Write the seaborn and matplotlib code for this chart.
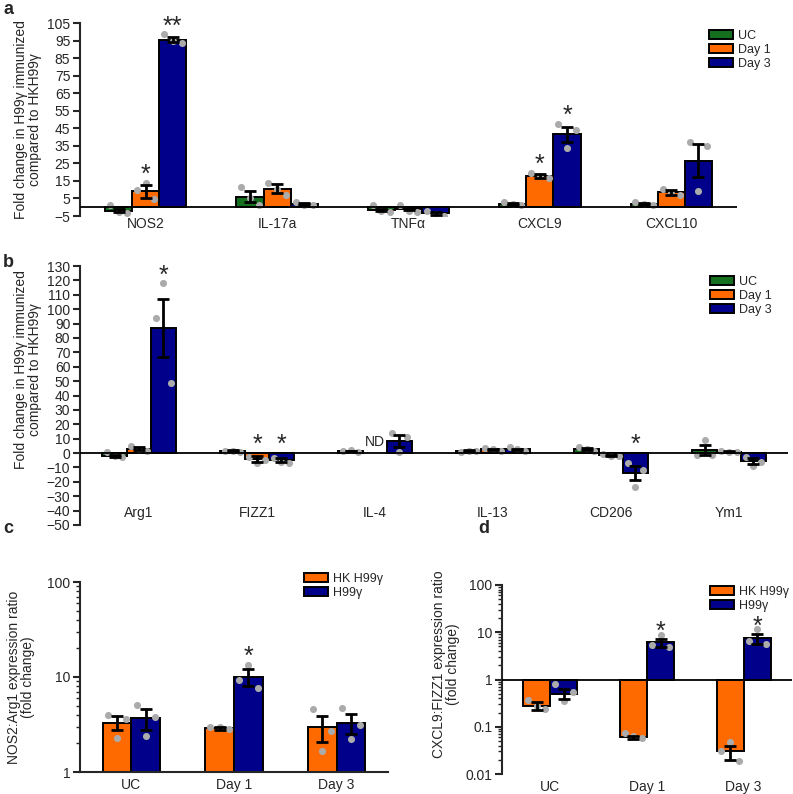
import numpy as np
import pandas as pd
import matplotlib
matplotlib.use("Agg")
import matplotlib.pyplot as plt
import matplotlib.ticker as mticker
from matplotlib.patches import Patch
import seaborn as sns

nan = np.nan

# ---- panel a: M1 markers ----
genes_a = ["NOS2", "IL-17a", "TNFα", "CXCL9", "CXCL10"]
days = ["UC", "Day 1", "Day 3"]
a_mean_uc = [-2.0, 6.0, -1.5, 2.0, 2.0]
a_mean_d1 = [9.0, 10.5, -1.0, 18.0, 8.5]
a_mean_d3 = [95.5, 2.0, -3.5, 41.5, 26.5]
a_sem_uc = [1.0, 3.2, 0.7, 0.6, 0.5]
a_sem_d1 = [3.5, 2.5, 0.8, 1.2, 1.5]
a_sem_d3 = [1.5, 0.5, 0.8, 4.5, 9.3]
a_pts_uc = [[1.5, -3.0, -3.5], [11.5, 5.5, 1.5], [1.0, -2.0, -3.0], [3.0, 2.0, 1.0], [3.0, 2.0, 1.0]]
a_pts_d1 = [[10.0, 14.0, 4.5], [14.0, 10.5, 7.0], [1.5, -2.0, -2.5], [19.5, 18.0, 16.5], [10.5, 8.0, 7.0]]
a_pts_d3 = [[98.5, 95.0, 93.5], [3.0, 1.5, 1.0], [-2.0, -4.0, -5.0], [47.5, 33.5, 44.0], [37.0, 9.5, 35.0]]
a_stars = [("NOS2", "Day 1", "*"), ("NOS2", "Day 3", "**"),
           ("CXCL9", "Day 1", "*"), ("CXCL9", "Day 3", "*")]

# ---- panel b: M2 markers ----
genes_b = ["Arg1", "FIZZ1", "IL-4", "IL-13", "CD206", "Ym1"]
b_mean_uc = [-2.0, 1.5, 1.5, 1.5, 3.0, 2.0]
b_mean_d1 = [3.0, -4.0, nan, 2.5, -1.5, 1.0]
b_mean_d3 = [87.0, -5.0, 8.5, 2.5, -14.0, -5.5]
b_sem_uc = [0.8, 0.3, 0.2, 0.3, 0.7, 3.5]
b_sem_d1 = [1.0, 2.0, nan, 0.5, 0.3, 0.3]
b_sem_d3 = [20.0, 1.5, 4.0, 0.6, 5.0, 2.0]
b_pts_uc = [[1.0, -2.0, -3.0], [1.5, 1.5, 1.0], [1.5, 2.0, 1.0], [1.0, 1.5, 1.5], [4.5, 3.0, 1.5], [-1.5, 9.0, -1.5]]
b_pts_d1 = [[5.0, 2.0, 1.5], [-2.5, -7.0, -4.5], [nan, nan, nan], [3.5, 3.0, 1.5], [-0.5, -2.0, -2.0], [1.5, 1.0, 0.5]]
b_pts_d3 = [[94.0, 118.0, 49.0], [-3.5, -6.5, -7.0], [14.0, 1.0, 11.5], [4.0, 2.5, 1.5], [-7.0, -23.5, -12.0], [-2.5, -9.0, -6.0]]
b_stars = [("Arg1", "Day 3", "*"), ("FIZZ1", "Day 1", "*"),
           ("FIZZ1", "Day 3", "*"), ("CD206", "Day 3", "*")]

# ---- panels c, d: expression ratios ----
times = ["UC", "Day 1", "Day 3"]
strains = ["HK H99γ", "H99γ"]
c_mean_hk = [3.3, 2.9, 2.95]
c_mean_h99 = [3.7, 10.1, 3.3]
c_sem_hk = [0.55, 0.1, 0.9]
c_sem_h99 = [0.9, 2.0, 0.8]
c_pts_hk = [[4.0, 2.3, 3.6], [3.0, 2.95, 2.85], [4.6, 1.65, 2.7]]
c_pts_h99 = [[5.1, 2.4, 3.8], [9.2, 13.5, 7.7], [4.7, 2.2, 3.1]]
c_stars = [("Day 1", "H99γ", "*")]

d_mean_hk = [0.28, 0.06, 0.03]
d_mean_h99 = [0.5, 6.1, 7.4]
d_sem_hk = [0.05, 0.005, 0.01]
d_sem_h99 = [0.12, 1.2, 1.8]
d_pts_hk = [[0.37, 0.27, 0.24], [0.072, 0.065, 0.058], [0.03, 0.048, 0.019]]
d_pts_h99 = [[0.8, 0.35, 0.55], [5.5, 8.8, 4.8], [6.5, 11.5, 5.6]]
d_stars = [("Day 1", "H99γ", "*"), ("Day 3", "H99γ", "*")]

GREEN, ORANGE, NAVY = "#14701e", "#ff6a00", "#00008b"
DOT = "#ababab"
FS = 10

sns.set_style("ticks")
plt.rcParams["font.family"] = ["Liberation Sans", "DejaVu Sans"]
plt.rcParams["axes.linewidth"] = 1.5


def draw_bars(ax, cats, groups, colors, means, sems, pts, width, log=False):
    rows = []
    for g, m in zip(groups, means):
        for c, v in zip(cats, m):
            rows.append({"cat": c, "group": g, "value": v})
    df = pd.DataFrame(rows)
    sns.barplot(data=df, x="cat", y="value", hue="group", order=cats, hue_order=groups,
                palette=colors, width=width, saturation=1, edgecolor="black",
                linewidth=1.4, errorbar=None, legend=False, ax=ax, zorder=2)
    bars = list(ax.containers)
    for gi, cont in enumerate(bars):
        for patch in cont:
            xc = patch.get_x() + patch.get_width() / 2
            ci = int(round(xc))
            m = means[gi][ci]
            if np.isnan(m):
                continue
            if log:
                patch.set_y(1)
                patch.set_height(m - 1)
            w = patch.get_width()
            ax.scatter(xc + w * np.array([-0.32, 0, 0.32]), pts[gi][ci], s=26,
                       color=DOT, linewidth=0, zorder=3)
            ax.errorbar(xc, m, yerr=sems[gi][ci], color="black", lw=2,
                        capsize=4.5, capthick=2, zorder=4)
    return bars


def add_stars(ax, bars, cats, groups, means, sems, pts, stars, base, dy=-3):
    for cat, grp, txt in stars:
        gi, ci = groups.index(grp), cats.index(cat)
        patch = [p for p in bars[gi] if int(round(p.get_x() + p.get_width() / 2)) == ci][0]
        xc = patch.get_x() + patch.get_width() / 2
        top = max(means[gi][ci] + sems[gi][ci], max(pts[gi][ci]), base)
        ax.annotate(txt, (xc, top), xytext=(0, dy), textcoords="offset points",
                    ha="center", va="bottom", fontsize=18)


def add_legend(fig, ax, groups, colors, anchor):
    handles = [Patch(facecolor=c, edgecolor="black", linewidth=1.4, label=g)
               for g, c in zip(groups, colors)]
    ax.legend(handles=handles, loc="upper left", bbox_to_anchor=anchor,
              bbox_transform=fig.transFigure, frameon=False, fontsize=9,
              handlelength=1.9, handleheight=0.7, labelspacing=0.15,
              handletextpad=0.45, borderpad=0, borderaxespad=0)


def style_axis(ax, n, xpad):
    ax.set_xlim(-0.5, n - 0.5)
    ax.set_xlabel("")
    ax.tick_params(axis="x", length=0, pad=xpad, labelsize=FS)
    ax.tick_params(axis="y", which="major", length=5, width=1.5, labelsize=FS, pad=2)
    ax.tick_params(axis="y", which="minor", length=3, width=1)
    sns.despine(ax=ax, top=True, right=True)


fig = plt.figure(figsize=(7.93, 7.94), dpi=100)
W, H = 793, 794


def rect(x0, x1, ytop, ybot):
    return [x0 / W, 1 - ybot / H, (x1 - x0) / W, (ybot - ytop) / H]


ylab_ab = "Fold change in H99γ immunized\ncompared to HKH99γ"

# panel a
ax_a = fig.add_axes(rect(80, 737, 23, 216))
means = [a_mean_uc, a_mean_d1, a_mean_d3]
sems = [a_sem_uc, a_sem_d1, a_sem_d3]
pts = [a_pts_uc, a_pts_d1, a_pts_d3]
bars = draw_bars(ax_a, genes_a, days, [GREEN, ORANGE, NAVY], means, sems, pts, 0.62)
add_stars(ax_a, bars, genes_a, days, means, sems, pts, a_stars, 0)
ax_a.axhline(0, color="black", lw=1.3, zorder=5)
ax_a.set_ylim(-5, 105)
ax_a.set_yticks(np.arange(-5, 106, 10))
style_axis(ax_a, len(genes_a), 0.5)
ax_a.spines["bottom"].set_visible(False)
ax_a.set_ylabel(ylab_ab, fontsize=FS, linespacing=1.0)
ax_a.yaxis.set_label_coords(-0.058, 0.5)
add_legend(fig, ax_a, days, [GREEN, ORANGE, NAVY], (709 / W, 1 - 30 / H))

# panel b
ax_b = fig.add_axes(rect(80, 788, 266, 525))
means = [b_mean_uc, b_mean_d1, b_mean_d3]
sems = [b_sem_uc, b_sem_d1, b_sem_d3]
pts = [b_pts_uc, b_pts_d1, b_pts_d3]
bars = draw_bars(ax_b, genes_b, days, [GREEN, ORANGE, NAVY], means, sems, pts, 0.62)
add_stars(ax_b, bars, genes_b, days, means, sems, pts, b_stars, 0)
ax_b.text(genes_b.index("IL-4"), 7.5, "ND", ha="center", va="center", fontsize=FS)
ax_b.axhline(0, color="black", lw=1.3, zorder=5)
ax_b.set_ylim(-50, 130)
ax_b.set_yticks(np.arange(-50, 131, 10))
style_axis(ax_b, len(genes_b), -14)
ax_b.spines["bottom"].set_visible(False)
ax_b.set_ylabel(ylab_ab, fontsize=FS, linespacing=1.0)
ax_b.yaxis.set_label_coords(-0.054, 0.6)
add_legend(fig, ax_b, days, [GREEN, ORANGE, NAVY], (710 / W, 1 - 276 / H))

plain = mticker.FuncFormatter(lambda v, _: f"{v:g}")

# panel c
ax_c = fig.add_axes(rect(80, 388, 582, 772))
means = [c_mean_hk, c_mean_h99]
sems = [c_sem_hk, c_sem_h99]
pts = [c_pts_hk, c_pts_h99]
bars = draw_bars(ax_c, times, strains, [ORANGE, NAVY], means, sems, pts, 0.56, log=True)
ax_c.set_yscale("log")
add_stars(ax_c, bars, times, strains, means, sems, pts, c_stars, 1)
ax_c.set_ylim(1, 100)
ax_c.yaxis.set_major_formatter(plain)
ax_c.yaxis.set_minor_locator(mticker.LogLocator(base=10, subs=np.arange(2, 10)))
ax_c.yaxis.set_minor_formatter(mticker.NullFormatter())
style_axis(ax_c, len(times), 4)
ax_c.set_ylabel("NOS2:Arg1 expression ratio\n(fold change)", fontsize=FS, linespacing=1.0)
ax_c.yaxis.set_label_coords(-0.146, 0.5)
add_legend(fig, ax_c, strains, [ORANGE, NAVY], (304 / W, 1 - 573 / H))

# panel d
ax_d = fig.add_axes(rect(502, 792, 585, 774))
means = [d_mean_hk, d_mean_h99]
sems = [d_sem_hk, d_sem_h99]
pts = [d_pts_hk, d_pts_h99]
bars = draw_bars(ax_d, times, strains, [ORANGE, NAVY], means, sems, pts, 0.56, log=True)
ax_d.set_yscale("log")
add_stars(ax_d, bars, times, strains, means, sems, pts, d_stars, 1, dy=-6.5)
ax_d.axhline(1, color="black", lw=1.3, zorder=5)
ax_d.set_ylim(0.01, 100)
ax_d.yaxis.set_major_formatter(plain)
ax_d.yaxis.set_minor_locator(mticker.LogLocator(base=10, subs=np.arange(2, 10)))
ax_d.yaxis.set_minor_formatter(mticker.NullFormatter())
style_axis(ax_d, len(times), 4)
ax_d.spines["bottom"].set_visible(False)
ax_d.set_ylabel("CXCL9:FIZZ1 expression ratio\n(fold change)", fontsize=FS, linespacing=1.0)
ax_d.yaxis.set_label_coords(-0.145, 0.58)
add_legend(fig, ax_d, strains, [ORANGE, NAVY], (710 / W, 1 - 586 / H))

# panel letters
for letter, (x, y) in zip("abcd", [(3, 1), (3, 254), (3, 520), (478, 520)]):
    fig.text(x / W, 1 - y / H, letter, fontsize=13, fontweight="bold", va="top", ha="left")

fig.savefig("out.png", dpi=100)
